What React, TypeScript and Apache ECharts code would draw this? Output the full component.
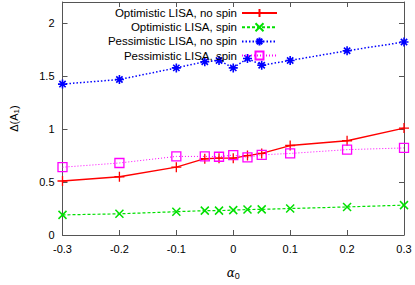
import React, { useEffect, useRef } from "react";
import * as echarts from "echarts";

const alpha = [-0.3, -0.2, -0.1, -0.05, -0.025, 0, 0.025, 0.05, 0.1, 0.2, 0.3];
const optNoSpin = [0.51, 0.55, 0.64, 0.72, 0.725, 0.725, 0.75, 0.77, 0.845, 0.89, 1.01];
const optSpin = [0.19, 0.2, 0.22, 0.23, 0.23, 0.235, 0.24, 0.242, 0.25, 0.265, 0.282];
const pesNoSpin = [1.425, 1.468, 1.578, 1.636, 1.648, 1.578, 1.667, 1.603, 1.648, 1.74, 1.822];
const pesSpin = [0.64, 0.68, 0.742, 0.742, 0.739, 0.755, 0.733, 0.757, 0.77, 0.806, 0.822];
const seriesNames = [
  "Optimistic LISA, no spin",
  "Optimistic LISA, spin",
  "Pessimistic LISA, no spin",
  "Pessimistic LISA, spin",
];

const PLUS = "path://M5 0L5 10M0 5L10 5";
const CROSS = "path://M0 0L10 10M10 0L0 10";
const STAR = "path://M5 0L5 10M0 5L10 5M1.5 1.5L8.5 8.5M8.5 1.5L1.5 8.5";
const SQUARE = "path://M0 0L10 0L10 10L0 10Z";

export default function App() {
  const ref = useRef<HTMLDivElement>(null);
  useEffect(() => {
    document.body.style.margin = "0";
    const chart = echarts.init(ref.current!, null, { renderer: "svg" });
    const font = "Liberation Sans, Arial, sans-serif";
    const axisColor = "#555";
    const mk = (
      name: string,
      vals: number[],
      color: string,
      type: any,
      width: number,
      symbol: string,
      size: number,
      bw: number
    ) => ({
      name,
      type: "line",
      xAxisIndex: 0,
      yAxisIndex: 0,
      data: alpha.map((a, i) => [a, vals[i]]),
      symbol,
      symbolSize: size,
      showAllSymbol: true,
      lineStyle: { color, width, type },
      itemStyle: { color: "rgba(0,0,0,0)", borderColor: color, borderWidth: bw },
    });
    chart.setOption({
      animation: false,
      grid: { left: 58, right: 11, top: 2, bottom: 41 },
      legend: {
        orient: "vertical",
        align: "right",
        right: 137,
        top: 7,
        padding: 0,
        itemWidth: 35,
        itemHeight: 10,
        itemGap: 2.2,
        textStyle: { fontFamily: font, fontSize: 11.5, color: "#000", lineHeight: 10 },
        data: seriesNames,
      },
      xAxis: [
        {
          type: "value",
          min: -0.3,
          max: 0.3,
          interval: 0.1,
          axisLine: { show: true, onZero: false, lineStyle: { color: axisColor } },
          axisTick: { show: true, inside: true, length: 5, lineStyle: { color: axisColor } },
          axisLabel: {
            fontFamily: font,
            fontSize: 11,
            color: "#000",
            margin: 8,
            formatter: (v: number) => {
              const r = Math.round(v * 10) / 10;
              return r === 0 ? "0" : r.toFixed(1);
            },
          },
          splitLine: { show: false },
          name: "{a|α}{s|0}",
          nameLocation: "middle",
          nameGap: 30,
          nameTextStyle: {
            rich: {
              a: { fontFamily: "DejaVu Serif, serif", fontSize: 12, color: "#000", fontStyle: "italic" },
              s: { fontFamily: font, fontSize: 9, color: "#000", padding: [6, 0, 0, 0] },
            },
          },
        },
        {
          type: "value",
          position: "top",
          min: -0.3,
          max: 0.3,
          interval: 0.1,
          axisLine: { show: true, onZero: false, lineStyle: { color: axisColor } },
          axisTick: { show: true, inside: true, length: 5, lineStyle: { color: axisColor } },
          axisLabel: { show: false },
          splitLine: { show: false },
        },
      ],
      yAxis: [
        {
          type: "value",
          min: 0,
          max: 2.2,
          interval: 0.5,
          axisLine: { show: true, onZero: false, lineStyle: { color: axisColor } },
          axisTick: { show: true, inside: true, length: 5, lineStyle: { color: axisColor } },
          axisLabel: {
            fontFamily: font,
            fontSize: 11,
            color: "#000",
            margin: 8,
            formatter: (v: number) => {
              const r = Math.round(v * 10) / 10;
              if (Math.abs(r * 2 - Math.round(r * 2)) > 1e-6) return "";
              return String(r);
            },
          },
          splitLine: { show: false },
          name: "{a|Δ(A}{s|1}{a|)}",
          nameLocation: "middle",
          nameRotate: 90,
          nameGap: 42,
          nameTextStyle: {
            rich: {
              a: { fontFamily: font, fontSize: 11, color: "#000" },
              s: { fontFamily: font, fontSize: 8, color: "#000", padding: [6, 0, 0, 0] },
            },
          },
        },
        {
          type: "value",
          position: "right",
          min: 0,
          max: 2.2,
          interval: 0.5,
          axisLine: { show: true, onZero: false, lineStyle: { color: axisColor } },
          axisTick: { show: true, inside: true, length: 5, lineStyle: { color: axisColor } },
          axisLabel: { show: false },
          splitLine: { show: false },
        },
      ],
      series: [
        mk(seriesNames[0], optNoSpin, "#ff0000", "solid", 1.3, PLUS, 10, 1.3),
        mk(seriesNames[1], optSpin, "#00e000", [3, 2], 1.2, CROSS, 8, 1.5),
        mk(seriesNames[2], pesNoSpin, "#0000ff", [1.5, 2], 1.5, STAR, 9, 1.6),
        mk(seriesNames[3], pesSpin, "#ff00ff", [1, 2], 1, SQUARE, 9, 1.3),
      ],
    });
    return () => chart.dispose();
  }, []);
  return <div ref={ref} style={{ width: 415, height: 285 }} />;
}
